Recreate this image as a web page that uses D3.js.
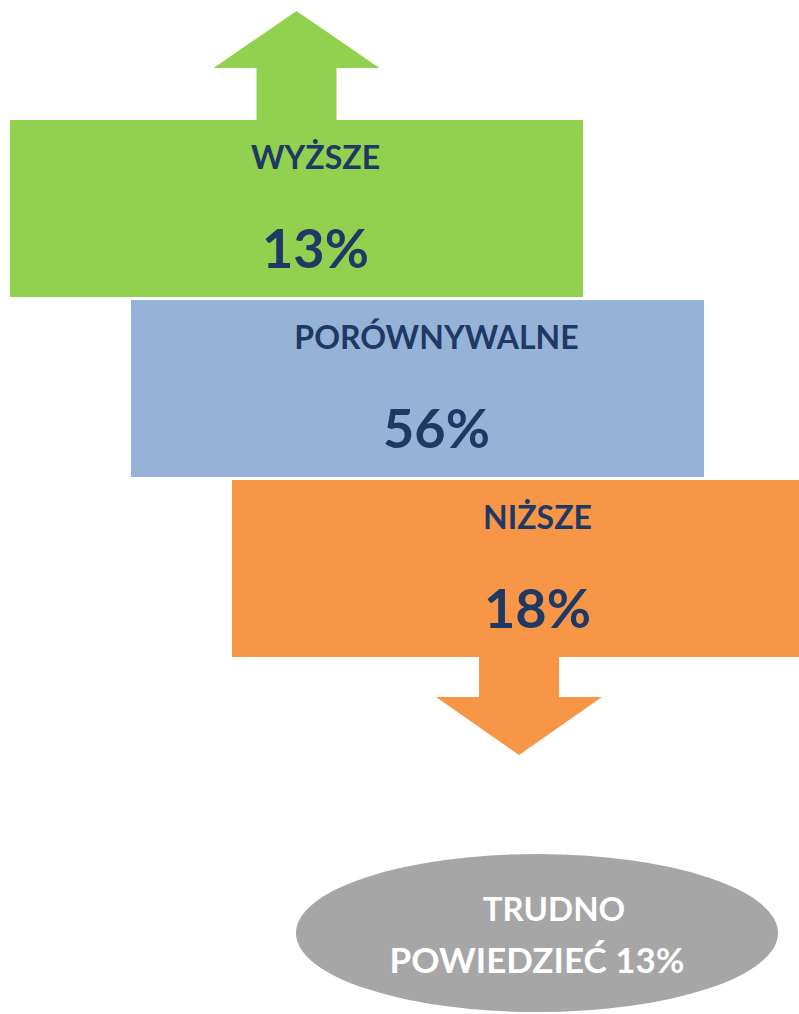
<!DOCTYPE html>
<html>
<head>
<meta charset="utf-8">
<script src="https://d3js.org/d3.v7.min.js"></script>
<style>
  body { margin: 0; background: #fff; }
  svg { display: block; }
</style>
</head>
<body>
<script>
// data
var categories = ["WYŻSZE", "PORÓWNYWALNE", "NIŻSZE"];
var values = [13, 56, 18];
var otherLabel = ["TRUDNO", "POWIEDZIEĆ"];
var otherValue = 13;

var colors = ["#92d050", "#95b3d7", "#f79646"];
var textColor = "#1f3864";

var width = 799, height = 1014;
var boxW = 573;

var svg = d3.select("body").append("svg")
    .attr("width", width)
    .attr("height", height);

// rows, one band per category
var y = d3.scaleBand()
    .domain(categories)
    .range([120, 657])
    .paddingInner(3 / 180);

// stair step of the boxes
var x = d3.scaleOrdinal()
    .domain(categories)
    .range([10, 131, 232]);

var color = d3.scaleOrdinal().domain(categories).range(colors);

var rows = categories.map(function(c, i) { return { cat: c, val: values[i] }; });

// up arrow above first box
var topY = y(categories[0]);
var ux = x(categories[0]) + boxW / 2;
svg.append("path")
    .attr("d", d3.line()([
        [ux - 40, topY], [ux - 40, topY - 52], [ux - 83, topY - 52],
        [ux, topY - 109], [ux + 83, topY - 52], [ux + 40, topY - 52], [ux + 40, topY]
    ]))
    .attr("fill", colors[0]);

// down arrow below last box
var last = categories[categories.length - 1];
var botY = y(last) + y.bandwidth();
var dx = x(last) + 287;
svg.append("path")
    .attr("d", d3.line()([
        [dx - 40, botY], [dx - 40, botY + 40], [dx - 83, botY + 40],
        [dx, botY + 98], [dx + 83, botY + 40], [dx + 40, botY + 40], [dx + 40, botY]
    ]))
    .attr("fill", colors[2]);

var g = svg.selectAll(".row")
    .data(rows)
    .enter().append("g")
    .attr("class", "row");

g.append("rect")
    .attr("x", function(d) { return x(d.cat); })
    .attr("y", function(d) { return y(d.cat); })
    .attr("width", boxW)
    .attr("height", y.bandwidth())
    .attr("fill", function(d) { return color(d.cat); });

g.append("text")
    .attr("x", function(d) { return x(d.cat) + boxW / 2 + 19; })
    .attr("y", function(d) { return y(d.cat) + 49; })
    .attr("text-anchor", "middle")
    .style("font-family", "Lato, sans-serif")
    .style("font-weight", "bold")
    .style("font-size", "32px")
    .style("fill", textColor)
    .text(function(d) { return d.cat; });

g.append("text")
    .attr("x", function(d) { return x(d.cat) + boxW / 2 + 19; })
    .attr("y", function(d) { return y(d.cat) + 148; })
    .attr("text-anchor", "middle")
    .style("font-family", "Lato, sans-serif")
    .style("font-weight", "bold")
    .style("font-size", "54px")
    .style("fill", textColor)
    .text(function(d) { return d.val + "%"; });

// "trudno powiedzieć" ellipse
svg.append("ellipse")
    .attr("cx", 537)
    .attr("cy", 933)
    .attr("rx", 241)
    .attr("ry", 79)
    .attr("fill", "#a6a6a6");

var t = svg.append("text")
    .attr("text-anchor", "middle")
    .style("font-family", "Lato, sans-serif")
    .style("font-weight", "bold")
    .style("font-size", "33px")
    .style("fill", "#fff");
t.append("tspan").attr("x", 554).attr("y", 921).text(otherLabel[0]);
t.append("tspan").attr("x", 537).attr("y", 973)
    .style("font-size", "35px")
    .text(otherLabel[1] + " " + otherValue + "%");
</script>
</body>
</html>
